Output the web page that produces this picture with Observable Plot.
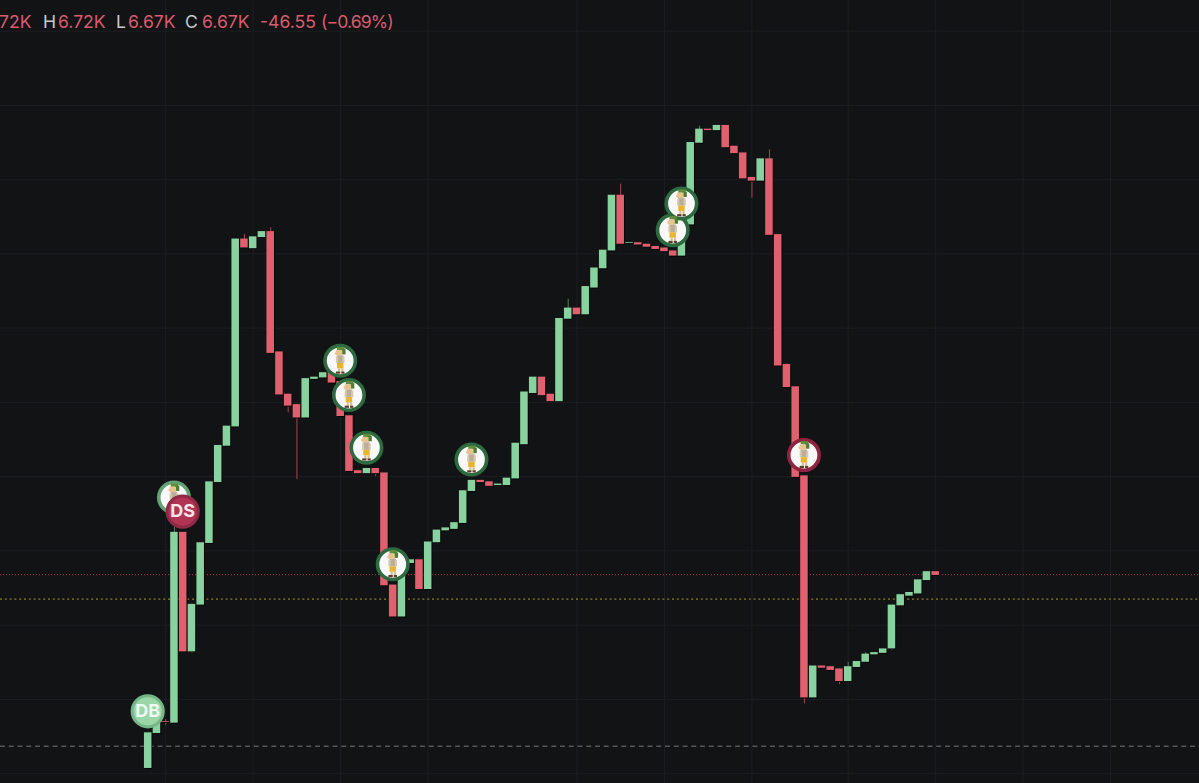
<!DOCTYPE html>
<html>
<head>
<meta charset="utf-8">
<style>
html,body{margin:0;padding:0;background:#111315;overflow:hidden}
#wrap{position:relative;width:1199px;height:783px;overflow:hidden}
#legend{position:absolute;left:0;top:0;width:1199px;height:40px;font:400 17.6px Inter,sans-serif;color:#dc5a6d}
#legend span{position:absolute;top:12px;line-height:20px;white-space:nowrap}
#legend .k{color:#c9cacc}
svg{display:block}
</style>
</head>
<body>
<div id="wrap">
<div id="chart"></div>
<div id="legend"></div>
</div>
<script src="https://cdn.jsdelivr.net/npm/d3@7"></script>
<script src="https://cdn.jsdelivr.net/npm/@observablehq/plot@0.6"></script>
<script>
const opens = [6407,6454,6470,6468,6725,6564,6627,6710,6792,6841,6867,7120,7107,7122,7130,6968,6911,6897,6879,6931,6933,6940,6928,6882,6808,6804,6811,6805,6654,6611,6683,6688,6648,6711,6727,6729,6737,6780,6795,6793,6788,6788,6797,6843,6912,6934,6911,6901,7012,7027,7018,7054,7080,7104,7179,7114,7115,7113,7110,7108,7104,7097,7139,7249,7268,7266,7273,7245,7236,7203,7198,7228,7126,6951,6921,6801,6502,6545,6544,6541,6524,6543,6550,6560,6562,6568,6626,6639,6642,6660,6672];
const closes = [6455,6468,6469,6725,6564,6628,6711,6793,6842,6868,7120,7108,7123,7130,6966,6910,6895,6879,6932,6934,6940,6926,6881,6807,6804,6811,6804,6653,6611,6684,6688,6648,6712,6728,6731,6738,6781,6795,6792,6787,6790,6798,6845,6914,6934,6909,6901,7013,7027,7018,7056,7081,7105,7179,7113,7115,7112,7109,7106,7103,7097,7138,7250,7268,7266,7273,7243,7235,7201,7198,7228,7125,6949,6920,6799,6502,6545,6542,6539,6524,6544,6551,6561,6563,6568,6627,6641,6644,6661,6672,6667];
const wickIndex = [2,3,5,11,14,16,17,26,48,54,63,69,71,73,75,79,80,82,85];
const wickHigh  = [6473,6732,6628,7126,7135,6911,6897,6811,7039,7194,7272,7203,7240,6952,6801,6541,6550,6563,6627];
const wickLow   = [6465,6468,6562,7108,6966,6886,6796,6800,7012,7113,7249,7175,7125,6920,6494,6520,6524,6550,6566];

const gridPrices = [6400,6500,6600,6700,6800,6900,7000,7100,7200,7300,7400];
const gridIndex = [2,12,22,32,49,59,69,80,90,100,110];

const lastPrice = 6668;
const avgPrice = 6635;
const basePrice = 6437;

const figureIndex = [3,22,23,25,28,37,60,61,75];
const figurePrice = [6772,6956,6910,6839,6682,6823,7132,7168,6829];
const figureRing  = ["#62a274","#2e6a3f","#2e6a3f","#2e6a3f","#2e6a3f","#2e6a3f","#2e6a3f","#2e6a3f","#8e2440"];

const badgeIndex = [0,4];
const badgePrice = [6484,6753];
const badgeLabel = ["DB","DS"];
const badgeFill  = ["#9ad6a8","#b13455"];
const badgeRing  = ["#76b587","#8e2a45"];

const legendLabels = ["72K","H","6.72K","L","6.67K","C","6.67K","-46.55","(−0.69%)"];
const legendLeft = [-1,43,58,116,128,185,202,260,321];

const UP = "#88d29f", DOWN = "#e0606f";

const candles = opens.map((o,i)=>({i,o,c:closes[i],up:closes[i]>=o}));
const wicks = wickIndex.map((i,k)=>({i,h:wickHigh[k],l:wickLow[k],up:candles[i].up}));
const figures = figureIndex.map((i,k)=>({i,p:figurePrice[k],ring:figureRing[k]}));
const badges = badgeIndex.map((i,k)=>({i,p:badgePrice[k],t:badgeLabel[k],fill:badgeFill[k],ring:badgeRing[k]}));

const figSvg = `<svg xmlns="http://www.w3.org/2000/svg" viewBox="0 0 28 28">
<rect x="11" y="1" width="7" height="3" fill="#5f8f3c"/><rect x="15" y="3" width="4" height="5" fill="#4c7d33"/>
<rect x="10" y="4" width="6" height="5" fill="#e7c48d"/><rect x="9" y="6" width="2" height="2" fill="#e7c48d"/>
<rect x="11" y="9" width="6" height="7" fill="#b9ad9c"/><rect x="10" y="10" width="2" height="6" fill="#d8c7a8"/><rect x="16" y="10" width="2" height="6" fill="#d8c7a8"/>
<rect x="11" y="16" width="6" height="5" fill="#e8b52b"/>
<rect x="12" y="21" width="2" height="3" fill="#d9bf92"/><rect x="15" y="21" width="2" height="3" fill="#d9bf92"/>
<rect x="10" y="24" width="4" height="2" fill="#5b3d28"/><rect x="15" y="24" width="3" height="2" fill="#5b3d28"/>
</svg>`;
const figSrc = "data:image/svg+xml," + encodeURIComponent(figSvg);

const pxX = 8.75, x0 = 147.7;
const pxP = 0.7425, y6700 = 550.4;

const chart = Plot.plot({
  width: 1199, height: 783,
  marginTop: 0, marginRight: 0, marginBottom: 0, marginLeft: 0,
  style: {background: "transparent"},
  x: {axis: null, domain: [-x0/pxX, (1199-x0)/pxX]},
  y: {axis: null, domain: [6700 - (783-y6700)/pxP, 6700 + y6700/pxP]},
  marks: [
    Plot.ruleY(gridPrices, {stroke: "#1d1e21", strokeWidth: 1}),
    Plot.ruleX(gridIndex, {stroke: "#1d1e21", strokeWidth: 1}),
    Plot.ruleY([lastPrice], {stroke: "#b23a4e", strokeWidth: 1, strokeDasharray: "1,2"}),
    Plot.ruleY([avgPrice], {stroke: "#8f7b2e", strokeWidth: 1.3, strokeDasharray: "2,2.8"}),
    Plot.ruleY([basePrice], {stroke: "#77787b", strokeWidth: 1, strokeDasharray: "5,3.75"}),
    Plot.ruleX(wicks, {x: "i", y1: "l", y2: "h", stroke: d => d.up ? "#4d7f5c" : "#b0404f", strokeWidth: 1}),
    Plot.rect(candles, {x1: d => d.i-0.43, x2: d => d.i+0.43, y1: d => Math.min(d.o,d.c), y2: d => Math.max(d.o,d.c), fill: "#050506", dx: 0.9, dy: 0.9}),
    Plot.rect(candles, {x1: d => d.i-0.43, x2: d => d.i+0.43, y1: d => Math.min(d.o,d.c), y2: d => Math.max(d.o,d.c), fill: d => d.up ? UP : DOWN}),
    Plot.dot(figures, {x: "i", y: "p", r: 15.2, fill: "#f8f8f8", stroke: "ring", strokeWidth: 3.6, dx: -0.5}),
    Plot.image(figures, {x: "i", y: "p", width: 30, height: 30, src: () => figSrc, dx: -0.5}),
    Plot.dot(badges, {x: "i", y: "p", r: 15.6, fill: "fill", stroke: "ring", strokeWidth: 3, dx: -0.5}),
    Plot.text(badges, {x: "i", y: "p", text: "t", fill: d => d.t === "DS" ? "#f7e6ea" : "#eef9f0", fontSize: 18, fontWeight: 700, fontFamily: "Inter, sans-serif", dx: -0.5})
  ]
});
document.getElementById("chart").append(chart);

const legend = document.getElementById("legend");
legendLabels.forEach((t,k)=>{
  const s = document.createElement("span");
  s.textContent = t;
  s.style.left = legendLeft[k] + "px";
  if (["H","L","C"].includes(t)) s.className = "k";
  if (t.startsWith("(")) s.style.letterSpacing = "-0.9px";
  legend.append(s);
});
</script>
</body>
</html>
